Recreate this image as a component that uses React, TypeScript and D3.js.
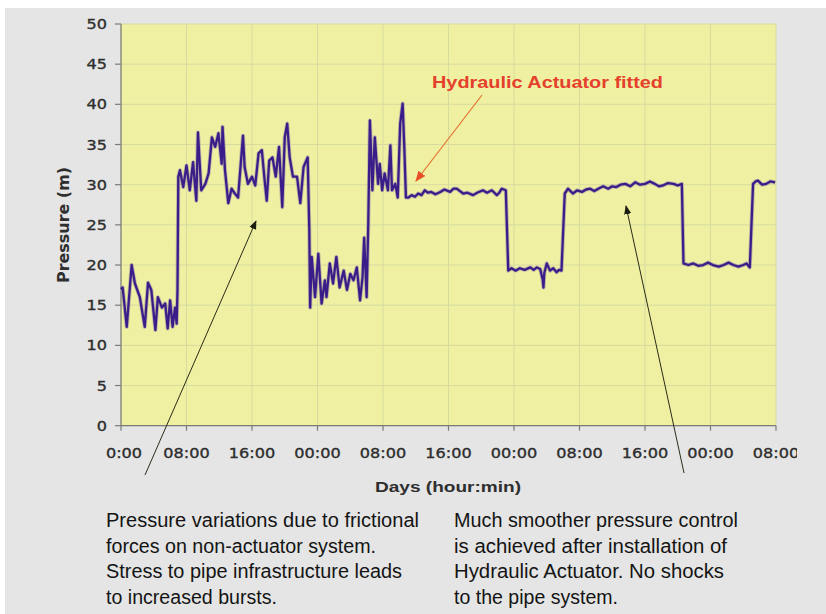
import React from 'react';
import * as d3 from 'd3';

// hours since start (x) and pressure in metres (y)
const HOURS = [
  0.0, 0.2, 0.7, 1.3, 1.7, 2.3, 2.9, 3.3, 3.7, 4.2, 4.5, 5.0, 5.4, 5.7, 6.0, 6.3, 6.6, 6.8, 6.9,
  7.0, 7.2, 7.6, 8.0, 8.4, 8.8, 9.2, 9.4, 9.8, 10.3, 10.7, 11.1, 11.5, 11.9, 12.3, 12.4, 12.7,
  13.1, 13.5, 13.9, 14.3, 14.9, 15.1, 15.5, 16.0, 16.4, 16.8, 17.2, 17.5, 17.8, 18.1, 18.5, 18.9,
  19.3, 19.7, 20.0, 20.3, 20.6, 21.0, 21.5, 21.9, 22.3, 22.8, 23.0, 23.1, 23.3, 23.7, 24.1, 24.5,
  24.9, 25.1, 25.5, 25.9, 26.3, 26.7, 27.2, 27.6, 28.0, 28.4, 28.8, 29.2, 29.5, 29.7, 30.0, 30.2,
  30.4, 30.7, 31.0, 31.4, 31.6, 31.9, 32.2, 32.6, 32.9, 33.1, 33.5, 33.8, 34.1, 34.4, 34.6, 34.8,
  35.1, 35.5, 35.9, 36.3, 36.7, 37.1, 37.5, 37.9, 38.4, 39.0, 39.5, 40.2, 40.6, 41.0, 41.4, 41.8,
  42.3, 43.0, 43.5, 44.2, 44.7, 45.3, 45.9, 46.2, 46.5, 47.0,
  47.3, 47.7, 48.2, 48.7, 49.3, 50.0, 50.4, 50.8, 51.2, 51.5, 51.6, 51.7, 52.0, 52.4, 52.8, 53.2,
  53.5, 53.8,
  54.2, 54.6, 54.9, 55.2, 55.7, 56.3, 56.8, 57.3, 57.8, 58.3, 58.9, 59.5, 60.0, 60.5, 61.0, 61.6,
  62.2, 62.8, 63.4, 64.0, 64.6, 65.2, 65.7, 66.2, 66.8, 67.5, 68.0, 68.5,
  68.7, 69.3, 69.9, 70.5, 71.1, 71.7, 72.3, 73.0, 73.6, 74.2, 74.8, 75.4, 76.0, 76.4, 76.8,
  77.2, 77.5, 77.8, 78.3, 78.8, 79.3, 79.9,
];
const PRESSURE = [
  17.0, 17.2, 12.3, 20.0, 17.7, 16.0, 12.3, 17.8, 16.9, 11.9, 16.0, 14.7, 15.2, 12.1, 15.6, 12.3, 14.7, 12.7, 16.9,
  31.0, 31.8, 29.7, 32.4, 29.3, 32.8, 28.0, 36.5, 29.3, 30.1, 31.4, 35.9, 34.7, 36.4, 32.6, 37.2, 31.8,
  27.7, 29.5, 28.9, 28.4, 36.1, 32.2, 30.1, 31.0, 29.9, 33.9, 34.3, 31.0, 28.0, 33.0, 33.4, 31.0,
  34.7, 27.2, 35.9, 37.6, 33.4, 31.0, 31.0, 27.7, 32.2, 33.4, 24.3, 14.7, 21.0, 16.0, 21.4, 15.2,
  18.1, 16.0, 20.2, 17.7, 21.0, 17.2, 19.3, 16.9, 18.9, 18.1, 19.7, 15.6, 18.5, 23.4, 16.0, 25.1,
  38.0, 29.3, 35.9, 30.1, 32.6, 29.3, 31.4, 29.3, 34.9, 29.3, 30.1, 28.4, 37.6, 40.1, 34.7, 28.4,
  28.4, 28.7, 28.5, 28.9, 28.7, 29.3, 29.0, 29.1, 28.8, 29.1, 29.4, 29.1, 29.5, 29.5, 29.2, 28.9,
  29.0, 28.7, 29.0, 29.3, 29.0, 29.3, 28.7, 29.0, 29.5, 29.3,
  19.3, 19.6, 19.3, 19.6, 19.4, 19.7, 19.4, 19.7, 19.5, 18.2, 17.2, 19.0, 20.2, 19.3, 19.6, 19.1,
  19.4, 19.3,
  28.9, 29.5, 29.2, 28.9, 29.3, 29.1, 29.4, 29.5, 29.2, 29.5, 29.8, 29.5, 29.8, 29.7, 30.0, 30.1,
  29.8, 30.3, 30.0, 30.1, 30.4, 30.1, 29.8, 29.9, 30.2, 30.1, 29.9, 30.1,
  20.2, 20.0, 20.2, 19.9, 20.0, 20.3, 20.0, 19.8, 20.0, 20.3, 20.0, 19.8, 20.0, 20.2, 19.7,
  30.1, 30.4, 30.5, 30.0, 30.1, 30.4, 30.3,
];

const Y_TICKS = [0, 5, 10, 15, 20, 25, 30, 35, 40, 45, 50];
const X_TICK_HOURS = [0, 8, 16, 24, 32, 40, 48, 56, 64, 72, 80];
const X_TICK_LABELS = ['0:00', '08:00', '16:00', '00:00', '08:00', '16:00', '00:00', '08:00', '16:00', '00:00', '08:00'];

const LEFT_NOTE = [
  'Pressure variations due to frictional',
  'forces on non-actuator system.',
  'Stress to pipe infrastructure leads',
  'to increased bursts.',
];
const LEFT_NOTE_WIDTHS = [313, 270, 296, 171];
const RIGHT_NOTE = [
  'Much smoother pressure control',
  'is achieved after installation of',
  'Hydraulic Actuator. No shocks',
  'to the pipe system.',
];
const RIGHT_NOTE_WIDTHS = [284, 273, 270, 164];

const TICK_FONT = '"DejaVu Sans", Verdana, sans-serif';
const NOTE_FONT = '"Liberation Sans Narrow", "Arial Narrow", "Liberation Sans", sans-serif';

export default function App() {
  const x = d3.scaleLinear().domain([0, 80]).range([121, 776]);
  const y = d3.scaleLinear().domain([0, 50]).range([425.7, 24]);

  const points: [number, number][] = HOURS.map((h, i) => [h, PRESSURE[i]]);
  const line = d3.line<[number, number]>().x(d => x(d[0])).y(d => y(d[1]));
  const path = line(points) || '';

  const [x0, x1] = x.range();
  const [y0, y1] = y.range();

  return (
    <svg width={826} height={614} style={{ position: 'absolute', left: 0, top: 0, display: 'block' }}>
      <defs>
        <marker id="blackHead" viewBox="0 0 10 10" refX="9" refY="5" markerWidth="9" markerHeight="9" orient="auto">
          <path d="M0,1 L10,5 L0,9 z" fill="#1c1c10" />
        </marker>
        <marker id="redHead" viewBox="0 0 10 10" refX="9" refY="5" markerWidth="9" markerHeight="9" orient="auto">
          <path d="M0,1 L10,5 L0,9 z" fill="#e8502a" />
        </marker>
        <clipPath id="chartClip">
          <rect x={0} y={0} width={797} height={614} />
        </clipPath>
      </defs>

      <rect x={0} y={0} width={826} height={614} fill="#ffffff" />
      <rect x={5} y={8} width={821} height={606} fill="#e4e5e4" />

      {/* plot area */}
      <rect x={x0} y={y1} width={x1 - x0} height={y0 - y1} fill="#eff0a2" />

      {Y_TICKS.map(t => (
        <line key={'gy' + t} x1={x0} x2={x1} y1={y(t)} y2={y(t)} stroke="#d6dca0" strokeWidth={1} />
      ))}
      {X_TICK_HOURS.map(h => (
        <line key={'gx' + h} x1={x(h)} x2={x(h)} y1={y1} y2={y0} stroke="#d6dca0" strokeWidth={1} />
      ))}

      {/* axes */}
      <line x1={x0} x2={x0} y1={y1} y2={y0} stroke="#7a7a7a" strokeWidth={1.2} />
      <line x1={x0} x2={x1} y1={y0} y2={y0} stroke="#7a7a7a" strokeWidth={1.2} />
      {Y_TICKS.map(t => (
        <line key={'ty' + t} x1={x0 - 6} x2={x0} y1={y(t)} y2={y(t)} stroke="#7a7a7a" strokeWidth={1.2} />
      ))}
      {X_TICK_HOURS.map(h => (
        <line key={'tx' + h} x1={x(h)} x2={x(h)} y1={y0} y2={y0 + 5} stroke="#7a7a7a" strokeWidth={1.2} />
      ))}

      {Y_TICKS.map(t => (
        <text
          key={'ly' + t}
          transform={`translate(107,${y(t) + 5}) scale(1.15,1)`}
          textAnchor="end"
          fontFamily={TICK_FONT}
          fontSize={14}
          fill="#2e2e2e"
          stroke="#2e2e2e"
          strokeWidth={0.35}
        >
          {t}
        </text>
      ))}
      <g clipPath="url(#chartClip)">
        {X_TICK_HOURS.map((h, i) => (
          <text
            key={'lx' + i}
            transform={`translate(${i === 0 ? x(h) + 3 : x(h)},${458}) scale(1.15,1)`}
            textAnchor="middle"
            fontFamily={TICK_FONT}
            fontSize={14}
            fill="#2e2e2e"
            stroke="#2e2e2e"
            strokeWidth={0.35}
          >
            {X_TICK_LABELS[i]}
          </text>
        ))}
      </g>

      {/* axis titles */}
      <text
        transform="translate(69,225) rotate(-90)"
        textAnchor="middle"
        fontFamily={TICK_FONT}
        fontWeight="bold"
        fontSize={15}
        fill="#2e2e2e"
        textLength={116}
        lengthAdjust="spacingAndGlyphs"
      >
        Pressure (m)
      </text>
      <text
        x={375}
        y={492}
        fontFamily='"Liberation Sans", Arial, sans-serif'
        fontWeight="bold"
        fontSize={15}
        fill="#2e2e2e"
        textLength={146}
        lengthAdjust="spacingAndGlyphs"
      >
        Days (hour:min)
      </text>

      {/* pressure trace */}
      <path d={path} fill="none" stroke="#8a7ba6" strokeWidth={4} strokeOpacity={0.5} strokeLinejoin="round" />
      <path d={path} fill="none" stroke="#3b1d8a" strokeWidth={2.3} strokeLinejoin="round" />

      {/* annotations */}
      <text
        x={432}
        y={88}
        fontFamily='"Liberation Sans", Arial, sans-serif'
        fontWeight="bold"
        fontSize={16}
        fill="#e4402c"
        textLength={231}
        lengthAdjust="spacingAndGlyphs"
      >
        Hydraulic Actuator fitted
      </text>
      <line x1={482} y1={95} x2={416} y2={181} stroke="#e8702e" strokeWidth={1.2} markerEnd="url(#redHead)" />
      <line x1={145} y1={475} x2={256} y2={221} stroke="#2a2c18" strokeWidth={1} markerEnd="url(#blackHead)" />
      <line x1={684} y1={473} x2={626} y2={206} stroke="#2a2c18" strokeWidth={1} markerEnd="url(#blackHead)" />

      {LEFT_NOTE.map((s, i) => (
        <text
          key={'ln' + i}
          x={106}
          y={527 + i * 25.5}
          fontFamily={NOTE_FONT}
          fontSize={20}
          fill="#141414"
          textLength={LEFT_NOTE_WIDTHS[i]}
          lengthAdjust="spacingAndGlyphs"
        >
          {s}
        </text>
      ))}
      {RIGHT_NOTE.map((s, i) => (
        <text
          key={'rn' + i}
          x={454}
          y={527 + i * 25.5}
          fontFamily={NOTE_FONT}
          fontSize={20}
          fill="#141414"
          textLength={RIGHT_NOTE_WIDTHS[i]}
          lengthAdjust="spacingAndGlyphs"
        >
          {s}
        </text>
      ))}
    </svg>
  );
}
